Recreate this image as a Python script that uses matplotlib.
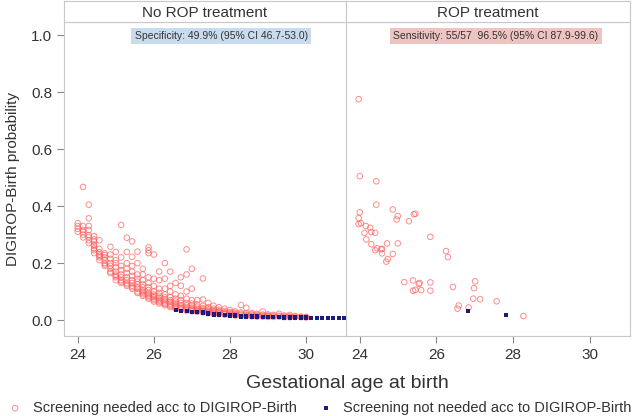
import matplotlib.pyplot as plt
import numpy as np

plt.rcParams['font.family'] = ['Liberation Sans', 'DejaVu Sans']

# left panel (no ROP treatment): screening needed (red circles), listed by GA column
neg_need_ga = (
    [24.0] * 4 + [24.14] * 6 + [24.29] * 8 + [24.43] * 8 + [24.57] * 7 + [24.71] * 7
    + [24.86] * 8 + [25.0] * 9 + [25.14] * 9 + [25.29] * 10 + [25.43] * 10 + [25.57] * 10
    + [25.71] * 10 + [25.86] * 12 + [26.0] * 10 + [26.14] * 10 + [26.29] * 10 + [26.43] * 10
    + [26.57] * 9 + [26.71] * 9 + [26.86] * 10 + [27.0] * 9 + [27.14] * 7 + [27.29] * 8
    + [27.43] * 7 + [27.57] * 7 + [27.71] * 6 + [27.86] * 6 + [28.0] * 5 + [28.14] * 5
    + [28.29] * 5 + [28.43] * 5 + [28.57] * 4 + [28.71] * 4 + [28.86] * 4 + [29.0] * 4
    + [29.14] * 3 + [29.29] * 3 + [29.43] * 3 + [29.57] * 3 + [29.71] * 2 + [29.86] * 2
    + [30.0] * 2
)
neg_need_prob = [
    0.34, 0.33, 0.32, 0.31,
    0.467, 0.33, 0.316, 0.309, 0.30, 0.29,
    0.405, 0.357, 0.33, 0.316, 0.298, 0.291, 0.28, 0.27,
    0.295, 0.283, 0.275, 0.265, 0.251, 0.245, 0.235, 0.26,
    0.28, 0.238, 0.25, 0.225, 0.22, 0.21, 0.23,
    0.234, 0.22, 0.21, 0.20, 0.195, 0.19, 0.228,
    0.257, 0.23, 0.215, 0.20, 0.19, 0.18, 0.17, 0.165,
    0.239, 0.21, 0.20, 0.185, 0.17, 0.16, 0.155, 0.15, 0.14,
    0.334, 0.22, 0.19, 0.175, 0.16, 0.15, 0.14, 0.135, 0.13,
    0.289, 0.239, 0.20, 0.18, 0.165, 0.15, 0.14, 0.13, 0.125, 0.12,
    0.276, 0.222, 0.19, 0.17, 0.155, 0.14, 0.13, 0.12, 0.115, 0.11,
    0.24, 0.20, 0.16, 0.145, 0.135, 0.125, 0.115, 0.11, 0.10, 0.095,
    0.18, 0.16, 0.14, 0.125, 0.115, 0.105, 0.10, 0.095, 0.09, 0.085,
    0.255, 0.245, 0.235, 0.15, 0.13, 0.115, 0.105, 0.095, 0.09, 0.085, 0.08, 0.075,
    0.23, 0.145, 0.12, 0.10, 0.09, 0.085, 0.08, 0.075, 0.07, 0.065,
    0.17, 0.14, 0.11, 0.095, 0.085, 0.078, 0.072, 0.068, 0.063, 0.058,
    0.20, 0.145, 0.11, 0.09, 0.08, 0.072, 0.066, 0.06, 0.056, 0.052,
    0.17, 0.12, 0.10, 0.08, 0.07, 0.064, 0.058, 0.054, 0.05, 0.046,
    0.13, 0.09, 0.075, 0.065, 0.058, 0.052, 0.048, 0.044, 0.04,
    0.15, 0.12, 0.085, 0.07, 0.06, 0.052, 0.047, 0.042, 0.038,
    0.248, 0.16, 0.10, 0.075, 0.06, 0.052, 0.046, 0.04, 0.036, 0.033,
    0.18, 0.11, 0.07, 0.058, 0.05, 0.044, 0.039, 0.035, 0.031,
    0.07, 0.055, 0.047, 0.04, 0.036, 0.032, 0.029,
    0.146, 0.072, 0.05, 0.042, 0.037, 0.033, 0.03, 0.027,
    0.06, 0.045, 0.038, 0.033, 0.03, 0.027, 0.024,
    0.05, 0.04, 0.034, 0.03, 0.027, 0.024, 0.022,
    0.045, 0.036, 0.031, 0.027, 0.024, 0.021,
    0.04, 0.032, 0.027, 0.024, 0.021, 0.019,
    0.035, 0.028, 0.024, 0.021, 0.018,
    0.03, 0.025, 0.021, 0.018, 0.016,
    0.053, 0.027, 0.022, 0.018, 0.015,
    0.043, 0.024, 0.019, 0.016, 0.014,
    0.025, 0.02, 0.016, 0.013,
    0.022, 0.018, 0.014, 0.012,
    0.03, 0.019, 0.015, 0.012,
    0.02, 0.016, 0.013, 0.011,
    0.018, 0.014, 0.011,
    0.022, 0.015, 0.012,
    0.016, 0.012, 0.01,
    0.018, 0.013, 0.01,
    0.014, 0.011,
    0.012, 0.01,
    0.011, 0.009,
]

# left panel: screening not needed (navy squares)
neg_noneed_ga = [
    26.57, 26.71, 26.86, 27.0, 27.14, 27.29, 27.29, 27.43, 27.43, 27.57, 27.57,
    27.71, 27.71, 27.86, 27.86, 28.0, 28.0, 28.14, 28.14, 28.29, 28.29, 28.43,
    28.43, 28.57, 28.57, 28.71, 28.71, 28.86, 28.86, 29.0, 29.0, 29.14, 29.14,
    29.29, 29.29, 29.43, 29.43, 29.57, 29.57, 29.71, 29.71, 29.86, 29.86, 30.0,
    30.0, 30.14, 30.14, 30.29, 30.29, 30.43, 30.43, 30.57, 30.57, 30.71, 30.71,
    30.86, 30.86, 31.0,
]
neg_noneed_prob = [
    0.035, 0.033, 0.03, 0.028, 0.028, 0.028, 0.024, 0.025, 0.021, 0.022, 0.019,
    0.021, 0.018, 0.019, 0.016, 0.018, 0.015, 0.016, 0.013, 0.015, 0.012, 0.014,
    0.012, 0.013, 0.011, 0.013, 0.011, 0.012, 0.01, 0.012, 0.01, 0.011, 0.009,
    0.011, 0.009, 0.01, 0.008, 0.01, 0.008, 0.009, 0.008, 0.009, 0.007, 0.009,
    0.007, 0.008, 0.007, 0.008, 0.007, 0.008, 0.006, 0.008, 0.006, 0.007, 0.006,
    0.007, 0.006, 0.007,
]

# right panel (ROP treatment)
pos_need_ga = [
    23.97, 24.0, 24.43, 24.43, 24.86, 24.0, 23.97, 23.97, 24.03, 24.16, 24.27,
    24.12, 24.3, 24.4, 24.17, 24.3, 24.45, 24.4, 24.56, 24.58, 24.58, 24.71,
    24.99, 24.86, 24.73, 24.69, 24.96, 24.99, 25.28, 25.41, 25.45, 25.84, 26.25,
    26.3, 25.16, 25.39, 25.54, 25.56, 25.39, 25.45, 25.6, 25.84, 25.84, 26.43,
    27.01, 26.98, 26.96, 27.14, 27.57, 26.58, 26.55, 26.84, 28.27,
]
pos_need_prob = [
    0.775, 0.505, 0.487, 0.405, 0.388, 0.378, 0.358, 0.337, 0.34, 0.33, 0.324,
    0.306, 0.309, 0.306, 0.283, 0.266, 0.252, 0.245, 0.248, 0.25, 0.234, 0.269,
    0.269, 0.232, 0.214, 0.205, 0.353, 0.365, 0.347, 0.371, 0.373, 0.292, 0.242,
    0.221, 0.133, 0.139, 0.127, 0.13, 0.103, 0.106, 0.105, 0.132, 0.103, 0.116,
    0.136, 0.112, 0.075, 0.073, 0.066, 0.051, 0.04, 0.044, 0.014,
]
pos_noneed_ga = [26.82, 27.82]
pos_noneed_prob = [0.032, 0.016]

panel_titles = ["No ROP treatment", "ROP treatment"]
panel_notes = ["Specificity: 49.9% (95% CI 46.7-53.0)",
               "Sensitivity: 55/57  96.5% (95% CI 87.9-99.6)"]
note_colors = ["#c9dced", "#eec4c2"]
note_x = [0.557, 0.528]

red = "#ff5c5c"
navy = "#1c1c7a"
frame = "#c8c8c8"
txt = "#333333"

fig = plt.figure(figsize=(6.32, 4.16), dpi=100)
lefts = [64 / 632, 346 / 632]
widths = [282 / 632, 284 / 632]
series = [(neg_need_ga, neg_need_prob, neg_noneed_ga, neg_noneed_prob),
          (pos_need_ga, pos_need_prob, pos_noneed_ga, pos_noneed_prob)]

for i in range(2):
    ax = fig.add_axes([lefts[i], 80 / 416, widths[i], 314 / 416])
    nx, ny, sx, sy = series[i]
    ax.scatter(nx, ny, s=16, facecolors="none", edgecolors=red, linewidths=0.7,
               alpha=0.7, label="Screening needed acc to DIGIROP-Birth", zorder=2)
    ax.scatter(sx, sy, s=9, marker="s", color=navy, linewidths=0,
               label="Screening not needed acc to DIGIROP-Birth", zorder=3)
    ax.set_xlim(23.64, 31.05)
    ax.set_ylim(-0.056, 1.046)
    ax.set_xticks([24, 26, 28, 30])
    ax.set_yticks([0.0, 0.2, 0.4, 0.6, 0.8, 1.0])
    ax.set_yticklabels(["0.0", "0.2", "0.4", "0.6", "0.8", "1.0"])
    for sp in ax.spines.values():
        sp.set_color(frame)
    ax.tick_params(colors="#888888", labelcolor=txt, labelsize=11, length=5)
    if i == 1:
        ax.tick_params(axis="y", left=False, labelleft=False)
    else:
        ax.set_ylabel("DIGIROP-Birth probability", fontsize=11, color=txt, labelpad=8)
    ax.text(note_x[i], 0.955, panel_notes[i], transform=ax.transAxes, ha="center", va="center",
            fontsize=7.5, color=txt,
            bbox=dict(boxstyle="square,pad=0.3", facecolor=note_colors[i], edgecolor="none"))

    hx = fig.add_axes([lefts[i], 394 / 416, widths[i], 21 / 416])
    hx.set_xticks([])
    hx.set_yticks([])
    for sp in hx.spines.values():
        sp.set_color(frame)
    hx.text(0.5, 0.45, panel_titles[i], ha="center", va="center", fontsize=11, color=txt)
    if i == 0:
        handles, labels = ax.get_legend_handles_labels()

fig.text(347 / 632, 1 - 383 / 416, "Gestational age at birth", ha="center", va="center",
         fontsize=14, color=txt)
leg = fig.legend(handles, labels, loc="center", bbox_to_anchor=(0.5, 1 - 408 / 416), ncol=2,
                 frameon=False, fontsize=10.5, handletextpad=0.2, columnspacing=1.0,
                 markerscale=1.0, borderaxespad=0)
for t in leg.get_texts():
    t.set_color(txt)

fig.savefig("out.png", dpi=100)
